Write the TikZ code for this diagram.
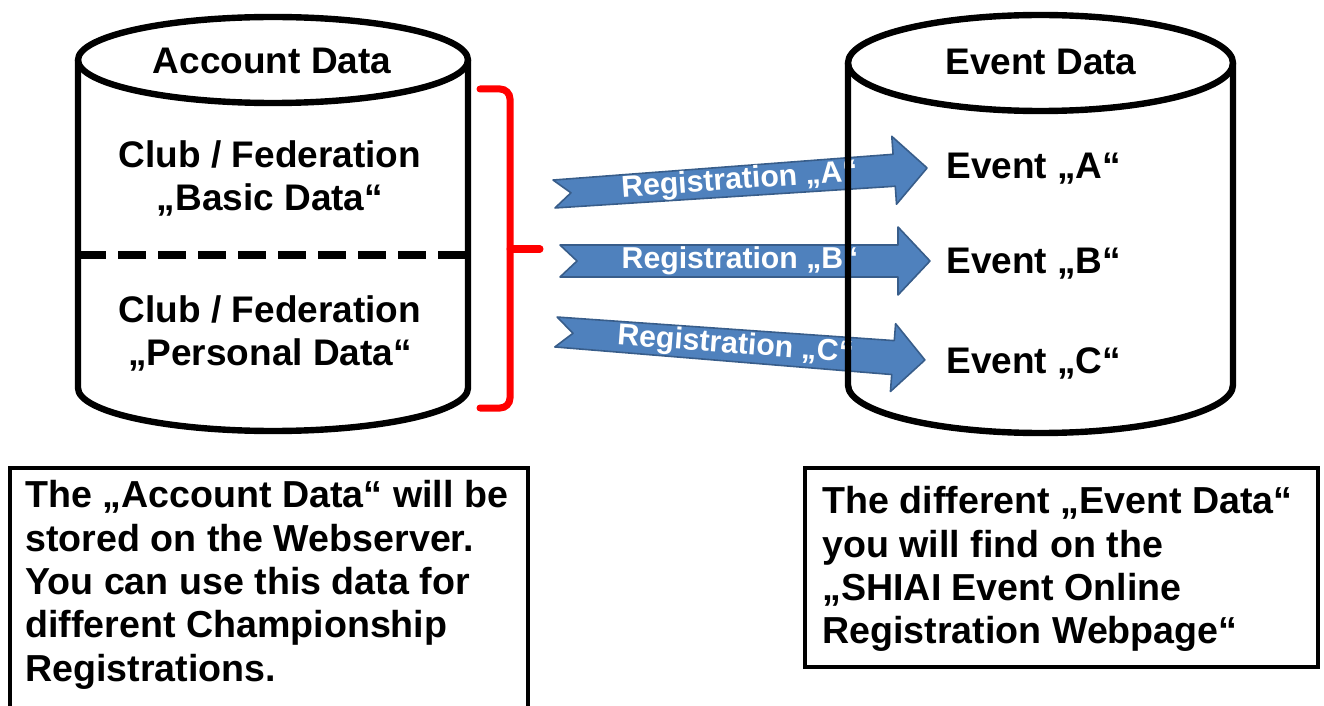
\documentclass[tikz,border=0pt]{standalone}
\usepackage{fontspec}
\setmainfont{Liberation Sans}
\usetikzlibrary{positioning}

\definecolor{regblue}{RGB}{79,129,189}
\definecolor{regedge}{RGB}{56,93,138}

\tikzset{
    cyl/.style={line width=3.2pt, line join=round},
    divider/.style={line width=4pt, dash pattern=on 14pt off 6pt},
    bracket/.style={red, line width=3.5pt, rounded corners=5pt, line cap=round},
    regshape/.style={fill=regblue, draw=regedge, line width=0.8pt, line join=round},
    reglabel/.style={text=white, font=\fontsize{15.1}{18}\selectfont\bfseries, inner sep=0pt},
    cyltext/.style={font=\fontsize{18.5}{21.5}\selectfont\bfseries, align=center, inner sep=0pt},
    infotext/.style={font=\fontsize{18.8}{21.7}\selectfont\bfseries, align=left, inner sep=0pt},
    infobox/.style={line width=1.7pt},
}

\begin{document}
\begin{tikzpicture}[x=0.5pt, y=-0.5pt]
        \useasboundingbox (0,0) rectangle (1324,706);
        % registration arrows
        \begin{scope}[shift={(554,194)}, rotate=3.99]
            \draw[regshape] (0,-14) -- (341,-16) -- (341,-34) -- (374,0) -- (341,34) -- (341,16) -- (0,14) -- (17,0) -- cycle;
            \node[reglabel, rotate=3.99] (regA) at (186,0) {Registration „A“};
        \end{scope}
        \begin{scope}[shift={(560,261)}]
            \draw[regshape] (0,-16) -- (338,-16) -- (338,-34) -- (370,0) -- (338,34) -- (338,16) -- (0,16) -- (17,0) -- cycle;
            \node[reglabel] (regB) at (180,0) {Registration „B“};
        \end{scope}
        \begin{scope}[shift={(556,332)}, rotate=-4.34]
            \draw[regshape] (0,-15) -- (338,-17) -- (338,-34) -- (370,0) -- (338,34) -- (338,17) -- (0,15) -- (17,0) -- cycle;
            \node[reglabel, rotate=-4.34] (regC) at (180,0) {Registration „C“};
        \end{scope}
        % account data cylinder
        \draw[cyl] (78,60) -- (78,388) arc[start angle=180, end angle=0, x radius=195, y radius=43] -- (468,60);
        \draw[cyl] (273,60) ellipse [x radius=195, y radius=43];
        \draw[divider] (78,255) -- (468,255);
        \node[cyltext] (accttitle) at (272,61) {Account Data};
        \node[cyltext] (acctbasic) at (270,178) {Club / Federation\\„Basic Data“};
        \node[cyltext] (acctpers) at (270,333) {Club / Federation\\„Personal Data“};
        % bracket
        \draw[bracket] (480,89) -| (510,408) -- (480,408);
        \draw[bracket] (510,249) -- (540,249);
        % event data cylinder
        \draw[cyl] (848,63) -- (848,385) arc[start angle=180, end angle=0, x radius=192.5, y radius=48] -- (1233,63);
        \draw[cyl] (1040.5,63) ellipse [x radius=192.5, y radius=48];
        \node[cyltext] (evtitle) at (1041,62) {Event Data};
        \node[cyltext, anchor=west] (evA) at (946,169) {Event „A“};
        \node[cyltext, anchor=west] (evB) at (946,264) {Event „B“};
        \node[cyltext, anchor=west] (evC) at (946,363) {Event „C“};
        % notes
        \draw[infobox] (10,730) |- (528,468) -- (528,730);
        \node[infotext, anchor=north west] (acctinfo) at (25,480) {The „Account Data“ will be\\stored on the Webserver.\\You can use this data for\\different Championship\\Registrations.};
        \draw[infobox] (805,468) rectangle (1318,667);
        \node[infotext, anchor=north west] (evinfo) at (822,486) {The different „Event Data“\\you will find on the\\„SHIAI Event Online\\Registration Webpage“};
\end{tikzpicture}
\end{document}
